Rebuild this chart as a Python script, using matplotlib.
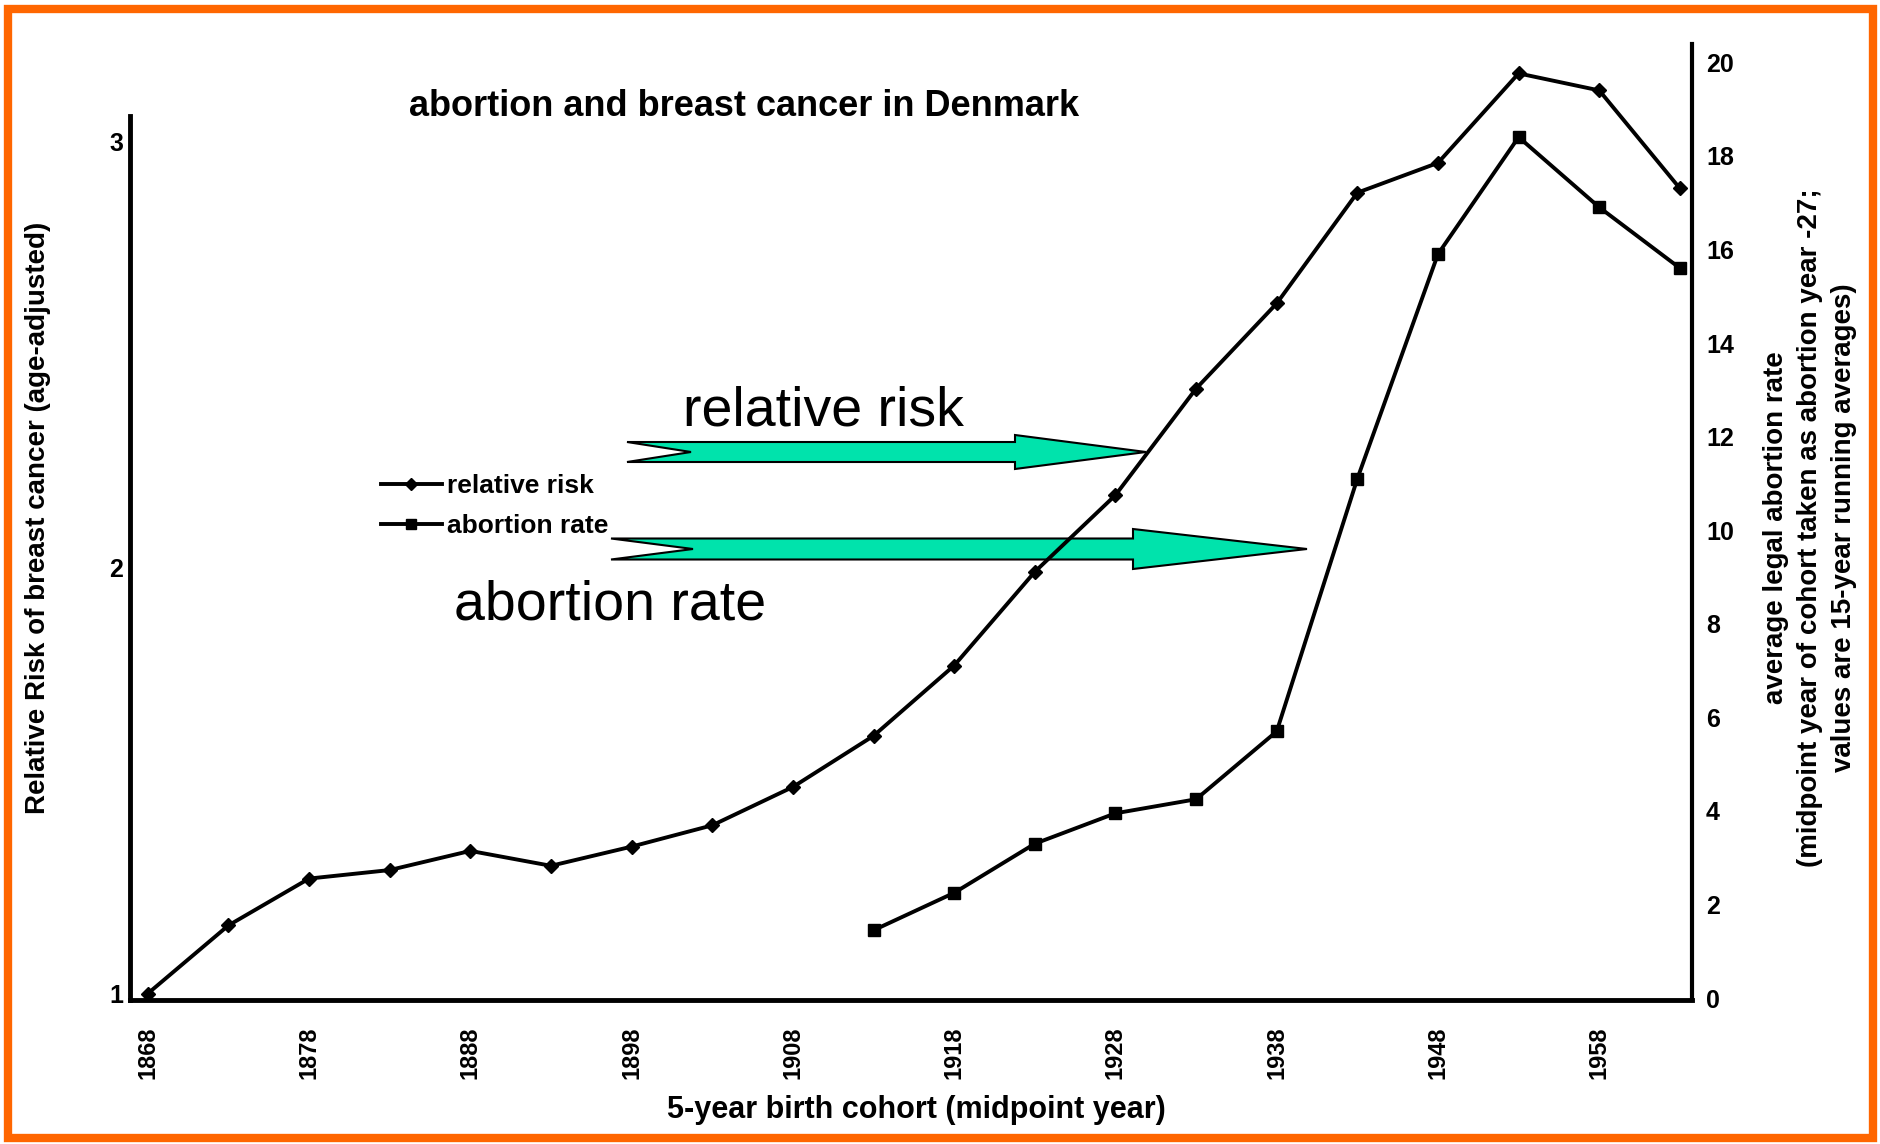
import matplotlib
matplotlib.use("Agg")
import matplotlib.pyplot as plt
from matplotlib.patches import Polygon, Rectangle

# 5-year birth cohorts (midpoint year)
cohort = [1868, 1873, 1878, 1883, 1888, 1893, 1898, 1903, 1908, 1913,
          1918, 1923, 1928, 1933, 1938, 1943, 1948, 1953, 1958, 1963]
relative_risk = [1.00, 1.16, 1.27, 1.29, 1.335, 1.30, 1.345, 1.395, 1.485, 1.605,
                 1.77, 1.99, 2.17, 2.42, 2.62, 2.88, 2.95, 3.16, 3.12, 2.89]

abort_cohort = [1913, 1918, 1923, 1928, 1933, 1938, 1943, 1948, 1953, 1958, 1963]
abortion_rate = [1.45, 2.25, 3.3, 3.95, 4.25, 5.7, 11.1, 15.9, 18.4, 16.9, 15.6]

year_ticks = [1868, 1878, 1888, 1898, 1908, 1918, 1928, 1938, 1948, 1958]
rr_ticks = [1, 2, 3]
rate_ticks = list(range(0, 21, 2))

W, H = 1881, 1144
BOLD = "Liberation Sans"
plt.rcParams["font.family"] = [BOLD, "DejaVu Sans"]

fig = plt.figure(figsize=(W / 100, H / 100), dpi=100)
fig.patch.set_facecolor("white")

# axes box in pixels: left 130, right 1692, top 44, bottom 1000
ax = fig.add_axes([130 / W, 1 - 1000 / H, (1692 - 130) / W, (1000 - 44) / H])
ax2 = ax.twinx()

ax.set_xlim(1866.9, 1963.75)
ax.set_ylim(0.985, 3.229)
ax2.set_ylim(-0.04, 20.39)

ax.plot(cohort, relative_risk, "-D", color="black", lw=2.8, ms=7.5, zorder=3,
        label="relative risk")
ax2.plot(abort_cohort, abortion_rate, "-s", color="black", lw=2.8, ms=9, zorder=3,
         label="abortion rate")

for s in ("top", "right"):
    ax.spines[s].set_visible(False)
ax2.spines["top"].set_visible(False)
ax2.spines["left"].set_visible(False)
ax2.spines["bottom"].set_visible(False)
ax.spines["left"].set_linewidth(3.5)
ax.spines["left"].set_bounds(0.985, 3.06)
ax.spines["bottom"].set_linewidth(3.5)
ax2.spines["right"].set_linewidth(3.0)

ax.set_xticks(year_ticks)
ax.set_xticklabels([str(y) for y in year_ticks], rotation=90, fontsize=17,
                   fontweight="bold")
ax.set_yticks(rr_ticks)
ax.set_yticklabels([str(v) for v in rr_ticks], fontsize=18, fontweight="bold")
ax2.set_yticks(rate_ticks)
ax2.set_yticklabels([str(v) for v in rate_ticks], fontsize=18, fontweight="bold")
ax.tick_params(axis="x", length=0, pad=19)
ax.tick_params(axis="y", length=0, pad=5)
ax2.tick_params(axis="y", length=0, pad=10)

ax.set_xlabel("5-year birth cohort (midpoint year)", fontsize=22, fontweight="bold",
              va="center")
ax.xaxis.set_label_coords((916 - 130) / (1692 - 130), -(1110 - 1000) / (1000 - 44))
ax.set_ylabel("Relative Risk of breast cancer (age-adjusted)", fontsize=20,
              fontweight="bold", va="center")
ax.yaxis.set_label_coords(-(130 - 38) / (1692 - 130), (1000 - 518) / (1000 - 44))
ax2.set_ylabel("average legal abortion rate\n"
               "(midpoint year of cohort taken as abortion year -27;\n"
               "values are 15-year running averages)",
               fontsize=20, fontweight="bold", rotation=90, linespacing=1.38,
               ha="center", va="center")
ax2.yaxis.set_label_coords((1810 - 130) / (1692 - 130), (1000 - 528) / (1000 - 44))

fig.text(744 / W, 1 - 106 / H, "abortion and breast cancer in Denmark",
         fontsize=26, fontweight="bold", ha="center", va="center")

# legend of the scanned chart
h1, l1 = ax.get_legend_handles_labels()
h2, l2 = ax2.get_legend_handles_labels()
leg = ax2.legend(h1 + h2, l1 + l2, loc="upper left",
                 bbox_to_anchor=(381 / W, 1 - 474 / H), bbox_transform=fig.transFigure,
                 frameon=False, borderpad=0, borderaxespad=0, handlelength=2.3,
                 handletextpad=0.2, labelspacing=0.6, markerscale=0.8,
                 prop={"family": BOLD, "weight": "bold", "size": 19})


# green notched arrows pasted over the chart
def notched_arrow(tail, tip, yc, body, head, notch, head_len):
    hs = tip - head_len
    pts = [(tail, yc - body), (hs, yc - body), (hs, yc - head), (tip, yc),
           (hs, yc + head), (hs, yc + body), (tail, yc + body), (tail + notch, yc)]
    poly = Polygon([(x / W, 1 - y / H) for x, y in pts], closed=True,
                   transform=fig.transFigure, facecolor="#00E3AC",
                   edgecolor="black", lw=1.5, zorder=1)
    ax.add_patch(poly)


notched_arrow(627, 1146, 452, 10, 17, 64, 131)
notched_arrow(611, 1307, 549, 10.5, 20, 82, 174)

fig.text(823 / W, 1 - 426 / H, "relative risk", fontsize=40, family="Liberation Sans",
         ha="center", va="baseline")
fig.text(610 / W, 1 - 620 / H, "abortion rate", fontsize=40, family="Liberation Sans",
         ha="center", va="baseline")

# orange frame
fig.patches.append(Rectangle((8 / W, 1 - 1138 / H), (1873 - 8) / W, (1138 - 9) / H,
                             transform=fig.transFigure, fill=False,
                             edgecolor="#FF6600", lw=6))

fig.savefig("out.png", dpi=100)
